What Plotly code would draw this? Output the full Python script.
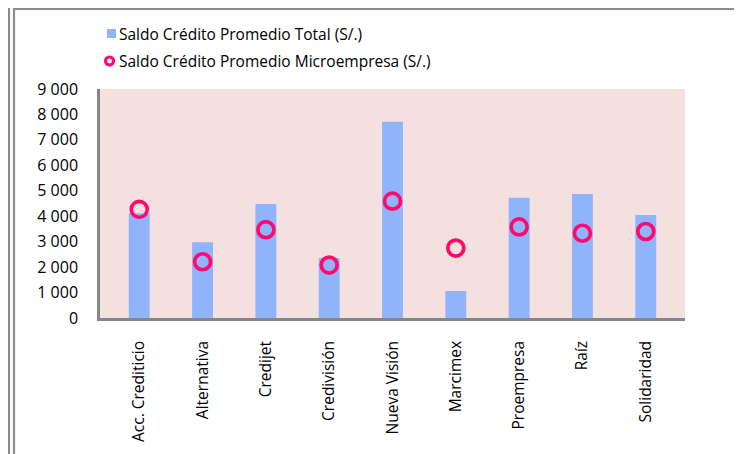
import plotly.graph_objects as go

# --- data ---
entidades = ["Acc. Crediticio", "Alternativa", "Credijet", "Credivisión",
             "Nueva Visión", "Marcimex", "Proempresa", "Raíz", "Solidaridad"]
saldo_total = [4120, 2980, 4480, 2360, 7710, 1060, 4730, 4870, 4050]
saldo_micro = [4270, 2210, 3470, 2080, 4590, 2750, 3580, 3330, 3400]
y_ticks = [0, 1000, 2000, 3000, 4000, 5000, 6000, 7000, 8000, 9000]

# the page body adds an 8px margin, so the figure is laid out 8px in
OFF = 8
W, H = 742 - OFF, 454 - OFF
L, R, T, B = 100 - OFF, 685 - OFF, 89 - OFF, 318 - OFF   # plot area (px)

BAR_COLOR = "#8fb4fc"
DOT_COLOR = "#ff0a6c"
FONT = "Open Sans, Lato, sans-serif"


def px_x(x):
    return (x - L) / (R - L)


def px_y(y):
    return (B - y) / (B - T)


fig = go.Figure()
fig.add_trace(go.Bar(
    x=entidades, y=saldo_total, name="Saldo Crédito Promedio Total (S/.)",
    marker=dict(color=BAR_COLOR, line=dict(width=0)), width=0.33,
))
fig.add_trace(go.Scatter(
    x=entidades, y=saldo_micro, mode="markers",
    name="Saldo Crédito Promedio Microempresa (S/.)",
    marker=dict(symbol="circle-open", size=16, color=DOT_COLOR,
                line=dict(width=3.7, color=DOT_COLOR)),
))

frame = dict(color="#8c8c8c", width=2.2)
shapes = [
    # outer frame of the chart and the edge of the neighbouring one
    dict(type="rect", xref="paper", yref="paper",
         x0=px_x(6), x1=px_x(731), y0=px_y(470), y1=px_y(1), line=frame),
    dict(type="line", xref="paper", yref="paper",
         x0=px_x(1), x1=px_x(1), y0=px_y(470), y1=px_y(-5), line=frame),
    # hand-drawn legend symbols
    dict(type="rect", xref="paper", yref="paper",
         x0=px_x(99), x1=px_x(108), y0=px_y(30), y1=px_y(21),
         fillcolor=BAR_COLOR, line=dict(width=0)),
    dict(type="circle", xref="paper", yref="paper",
         x0=px_x(97.5), x1=px_x(105.5), y0=px_y(57), y1=px_y(49),
         line=dict(color=DOT_COLOR, width=3.2)),
]
annotations = [
    dict(xref="paper", yref="paper", x=px_x(109), y=px_y(y), text=tr.name,
         xanchor="left", yanchor="middle", showarrow=False,
         font=dict(family=FONT, size=15.5, color="#000"))
    for tr, y in zip(fig.data, [25.5, 53])
]

fig.update_layout(
    width=W, height=H,
    margin=dict(l=L, r=W - R, t=T, b=H - B, pad=0),
    paper_bgcolor="white", plot_bgcolor="#f3e0df",
    font=dict(family=FONT, size=15, color="#000"),
    separators=", ",
    showlegend=False,
    shapes=shapes,
    annotations=annotations,
)
fig.update_xaxes(
    showgrid=False, showline=True, linecolor="#868686", linewidth=2.5,
    tickangle=-90, ticks="", ticklabelstandoff=14,
    tickfont=dict(family=FONT, size=15.5), fixedrange=True,
)
fig.update_yaxes(
    range=[0, 9000], tickvals=y_ticks, tickformat=",d",
    showgrid=False, zeroline=False, showline=True, linecolor="#868686",
    linewidth=2.5, ticks="", ticklabelstandoff=16,
    tickfont=dict(family=FONT, size=16), fixedrange=True,
)

fig.write_html("out.html")
